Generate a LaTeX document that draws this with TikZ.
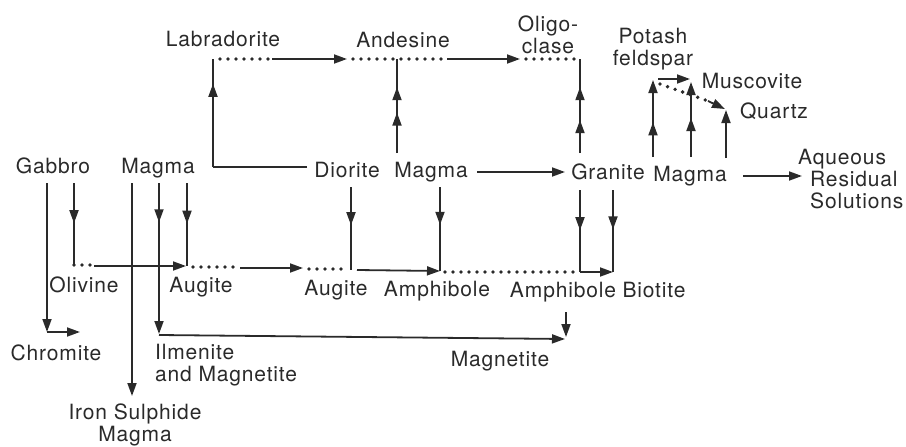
\documentclass[tikz,border=0pt]{standalone}
\usepackage{fontspec}
\setmainfont{TeX Gyre Heros}[LetterSpace=4]
\usetikzlibrary{arrows.meta,decorations.markings}
\definecolor{ink}{HTML}{2A2A2A}
\begin{document}
\begin{tikzpicture}[x=1pt,y=-1pt,
 lbl/.style={inner sep=0pt, text=ink, font=\fontsize{21}{22}\selectfont},
 ln/.style={draw=ink, line width=1.8pt},
 arr/.style={ln, -{Triangle[length=13pt,width=9pt]}},
 dotl/.style={draw=ink, line width=3.8pt, line cap=round, dash pattern=on 0pt off 8pt},
 mk/.style={postaction={decorate}, decoration={markings, mark=at position #1 with {\arrow{Triangle[length=13pt,width=9pt]}}}},
 mkk/.style 2 args={postaction={decorate}, decoration={markings,
   mark=at position #1 with {\arrow{Triangle[length=13pt,width=9pt]}},
   mark=at position #2 with {\arrow{Triangle[length=13pt,width=9pt]}}}},
]
\useasboundingbox (0,0) rectangle (906,447);
% ---------- labels ----------
\node[lbl,anchor=base] (lab) at (223,46) {Labradorite};
\node[lbl,anchor=base] (and) at (403,47) {Andesine};
\node[lbl,anchor=north,align=center] (olig) at (548,16) {Oligo-\\clase};
\node[lbl,anchor=north,align=center] (pot) at (653,28) {Potash\\feldspar};
\node[lbl,anchor=base] (musc) at (752,88) {Muscovite};
\node[lbl,anchor=base] (qtz) at (774,118) {Quartz};
\node[lbl,anchor=base] (gab) at (53,173) {Gabbro};
\node[lbl,anchor=base] (magl) at (158,173) {Magma};
\node[lbl,anchor=base] (dio) at (347,177) {Diorite};
\node[lbl,anchor=base] (magm) at (431,177) {Magma};
\node[lbl,anchor=base] (gran) at (608,179) {Granite};
\node[lbl,anchor=base] (magr) at (690,181) {Magma};
\node[lbl,anchor=north west,align=left] (aq) at (810,149) {\hspace*{-12pt}Aqueous\\Residual\\Solutions};
\node[lbl,anchor=base] (oliv) at (84,292) {Olivine};
\node[lbl,anchor=base] (augl) at (201,292) {Augite};
\node[lbl,anchor=base] (augm) at (336,295) {Augite};
\node[lbl,anchor=base] (amphm) at (437,296) {Amphibole};
\node[lbl,anchor=base] (amphr) at (563,297) {Amphibole};
\node[lbl,anchor=base] (bio) at (654,297) {Biotite};
\node[lbl,anchor=base] (chrom) at (56,360) {Chromite};
\node[lbl,anchor=north west,align=left] (ilm) at (155,344) {Ilmenite\\and Magnetite};
\node[lbl,anchor=north,align=center] (iron) at (135,404) {Iron Sulphide\\Magma};
\node[lbl,anchor=base] (magn) at (500,366) {Magnetite};
% ---------- junction points ----------
\coordinate (dioL) at (307,167);
\coordinate (labB) at (213,167);
\coordinate (labT) at (213,59);
\coordinate (labD) at (220,59);
\coordinate (labE) at (272,59);
\coordinate (andS) at (347,59);
\coordinate (andD) at (353,59);
\coordinate (andE) at (447,59);
\coordinate (oliS) at (520,59);
\coordinate (oliD) at (526,59);
\coordinate (oliT) at (580,59);
\coordinate (andV) at (397,59);
\coordinate (magmT) at (397,153);
\coordinate (granT) at (580,153);
\coordinate (magmE) at (477,172);
\coordinate (granW) at (565,172);
\coordinate (p1B) at (653,157);
\coordinate (p1T) at (653,80);
\coordinate (p2B) at (691,157);
\coordinate (p2T) at (691,82);
\coordinate (p3B) at (726,158);
\coordinate (p3T) at (726,110);
\coordinate (potR) at (658,79);
\coordinate (musL) at (690,79);
\coordinate (qD1) at (660,84);
\coordinate (qD2) at (708,101);
\coordinate (qE) at (725,109);
\coordinate (magrE) at (743,176);
\coordinate (aqW) at (802,176);
\coordinate (g1T) at (580,190);
\coordinate (g1B) at (580,272);
\coordinate (g2T) at (613,190);
\coordinate (g2B) at (613,272);
\coordinate (amD1) at (445,272);
\coordinate (amD2) at (574,272);
\coordinate (dioT) at (351,187);
\coordinate (dioB) at (351,270);
\coordinate (mmT) at (440,187);
\coordinate (mmB) at (440,271);
\coordinate (auD1) at (309,269);
\coordinate (auD2) at (347,269);
\coordinate (auS) at (357,270);
\coordinate (gabA) at (47,183);
\coordinate (gabB) at (47,332);
\coordinate (chrE) at (80,332);
\coordinate (gab2T) at (74,183);
\coordinate (gab2B) at (74,265);
\coordinate (olD) at (90,265);
\coordinate (olS) at (94,266);
\coordinate (augE) at (186,266);
\coordinate (m1T) at (132,183);
\coordinate (m1B) at (132,396);
\coordinate (m2T) at (159,183);
\coordinate (m2B) at (159,334);
\coordinate (ilmS) at (159,335);
\coordinate (mgE) at (565,339);
\coordinate (amT) at (566,312);
\coordinate (amB) at (566,337);
\coordinate (m3T) at (187,183);
\coordinate (m3B) at (187,266);
\coordinate (ad1) at (193,267);
\coordinate (ad2) at (234,267);
\coordinate (adS) at (240,268);
\coordinate (adE) at (303,268);
% ---------- connectors ----------
\draw[ln] (dioL) -- (labB);
\draw[ln,mk=0.77] (labB) -- (labT);
\draw[dotl] (labD) -- (labE);
\draw[arr] (labE) -- (andS);
\draw[dotl] (andD) -- (andE);
\draw[arr] (andE) -- (oliS);
\draw[dotl] (oliD) -- (oliT);
\draw[ln,mkk={0.43}{0.70}] (magmT) -- (andV);
\draw[ln,mkk={0.35}{0.70}] (granT) -- (oliT);
\draw[arr] (magmE) -- (granW);
\draw[arr,mk=0.45] (p1B) -- (p1T);
\draw[arr,mk=0.52] (p2B) -- (p2T);
\draw[arr] (p3B) -- (p3T);
\draw[arr] (potR) -- (musL);
\draw[dotl] (qD1) -- (qD2);
\draw[arr] (qD2) -- (qE);
\draw[arr] (magrE) -- (aqW);
\draw[ln,mk=0.49] (g1T) -- (g1B);
\draw[ln,mk=0.48] (g2T) -- (g2B);
\draw[dotl] (amD1) -- (amD2);
\draw[arr] (g1B) -- (g2B);
\draw[ln,mk=0.46] (dioT) -- (dioB);
\draw[ln,mk=0.45] (mmT) -- (mmB);
\draw[dotl] (auD1) -- (auD2);
\draw[arr] (auS) -- (mmB);
\draw[arr] (gabA) -- (gabB);
\draw[arr] (gabB) -- (chrE);
\draw[ln,mk=0.49] (gab2T) -- (gab2B);
\draw[dotl] (gab2B) -- (olD);
\draw[arr] (olS) -- (augE);
\draw[arr] (m1T) -- (m1B);
\draw[arr,mk=0.26] (m2T) -- (m2B);
\draw[arr] (ilmS) -- (mgE);
\draw[arr] (amT) -- (amB);
\draw[ln,mk=0.49] (m3T) -- (m3B);
\draw[dotl] (ad1) -- (ad2);
\draw[arr] (adS) -- (adE);
\end{tikzpicture}
\end{document}
